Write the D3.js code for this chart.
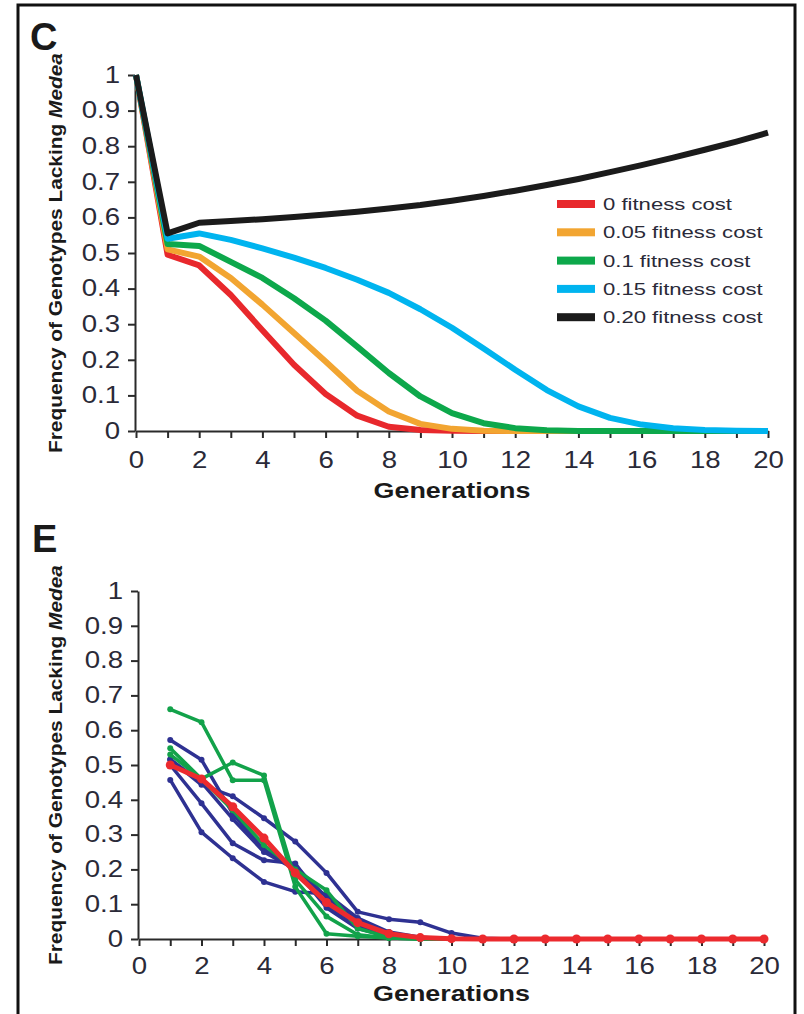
<!DOCTYPE html>
<html><head><meta charset="utf-8">
<script src="https://cdn.jsdelivr.net/npm/d3@7"></script>
<style>
body{margin:0;background:#fff;}
svg{display:block;font-family:"Liberation Sans",Arial,sans-serif;}
</style></head>
<body><svg id="chart" width="804" height="1014"></svg>
<script>
// ---------- DATA ----------
const gensC = d3.range(0, 21);
const legendLabels = ["0 fitness cost","0.05 fitness cost","0.1 fitness cost","0.15 fitness cost","0.20 fitness cost"];
const colorsC = ["#e8282c","#f2a531","#0da84b","#00b4ef","#1b1b1b"];
const cost0  = [1,0.495,0.465,0.382,0.283,0.186,0.104,0.043,0.012,0.003,0.001,0,0,0,0,0,0,0,0,0,0];
const cost05 = [1,0.51,0.49,0.43,0.355,0.275,0.195,0.113,0.055,0.02,0.006,0.001,0,0,0,0,0,0,0,0,0];
const cost10 = [1,0.525,0.52,0.475,0.43,0.373,0.31,0.237,0.163,0.097,0.05,0.022,0.008,0.002,0,0,0,0,0,0,0];
const cost15 = [1,0.54,0.555,0.537,0.513,0.487,0.458,0.425,0.388,0.342,0.29,0.232,0.172,0.115,0.069,0.037,0.018,0.008,0.003,0.001,0];
const cost20 = [1,0.555,0.585,0.59,0.595,0.601,0.608,0.616,0.625,0.635,0.647,0.66,0.675,0.691,0.708,0.727,0.747,0.768,0.79,0.813,0.838];
const seriesC = [cost0, cost05, cost10, cost15, cost20];

const gensE = d3.range(1, 21);
const blueE = [
  [0.572,0.515,0.36,0.256,0.21,0.12,0.05,0.015,0.003,0,0,0,0,0,0,0,0,0,0,0],
  [0.516,0.443,0.41,0.347,0.28,0.19,0.078,0.057,0.048,0.017,0.002,0,0,0,0,0,0,0,0,0],
  [0.457,0.307,0.232,0.164,0.136,0.13,0.06,0.02,0.005,0,0,0,0,0,0,0,0,0,0,0],
  [0.50,0.39,0.275,0.226,0.217,0.10,0.04,0.01,0.002,0,0,0,0,0,0,0,0,0,0,0],
  [0.516,0.45,0.345,0.25,0.2,0.09,0.03,0.008,0.001,0,0,0,0,0,0,0,0,0,0,0]
];
const greenE = [
  [0.66,0.623,0.456,0.456,0.15,0.015,0.008,0.003,0,0,0,0,0,0,0,0,0,0,0,0],
  [0.548,0.46,0.507,0.47,0.17,0.065,0.012,0.003,0,0,0,0,0,0,0,0,0,0,0,0],
  [0.53,0.46,0.37,0.27,0.2,0.14,0.03,0.005,0.001,0,0,0,0,0,0,0,0,0,0,0]
];
const redE = [0.50,0.46,0.38,0.29,0.19,0.105,0.047,0.015,0.004,0.001,0,0,0,0,0,0,0,0,0,0];
const yTicks = d3.range(0, 11).map(d => d / 10);
const yTickLabels = ["0","0.1","0.2","0.3","0.4","0.5","0.6","0.7","0.8","0.9","1"];
const xTicks = d3.range(0, 21);
const xTickLabels = xTicks.map(d => d % 2 === 0 ? String(d) : "");

// ---------- DRAW ----------
const svg = d3.select("#chart");
svg.append("rect").attr("x",18).attr("y",5).attr("width",777).attr("height",1030)
  .attr("fill","none").attr("stroke","#111").attr("stroke-width",3);

const SX = 1.2;
function panel(cfg){
  const x = d3.scaleLinear().domain([0,20]).range([cfg.x0, cfg.x1]);
  const y = d3.scaleLinear().domain([0,1]).range([cfg.y0, cfg.y1]);
  const g = svg.append("g");
  // axes
  const ya = g.append("g").attr("transform",`translate(${cfg.x0 - 1},0)`)
    .call(d3.axisLeft(y).tickValues(yTicks).tickFormat((d,i)=>yTickLabels[i]).tickSize(7).tickSizeOuter(0).tickPadding(8));
  const xa = g.append("g").attr("transform",`translate(0,${cfg.y0})`)
    .call(d3.axisBottom(x).tickValues(xTicks).tickFormat((d,i)=>xTickLabels[i]).tickSize(7).tickSizeOuter(0).tickPadding(cfg.xPad));
  [ya,xa].forEach(a=>{
    a.select(".domain").attr("stroke","#2a2a2a").attr("stroke-width",2);
    a.selectAll(".tick line").attr("stroke","#2a2a2a").attr("stroke-width",2);
    a.selectAll(".tick text").attr("fill","#2a2a38").attr("font-size",23).attr("font-family","Liberation Sans, Arial, sans-serif");
  });
  ya.selectAll(".tick text").attr("x", -15/SX).attr("transform",`scale(${SX},1)`);
  xa.selectAll(".tick text").attr("transform",`scale(${SX},1)`);
  // panel letter
  svg.append("text").attr("x",cfg.letterX).attr("y",cfg.letterY).text(cfg.letter)
    .attr("font-size",38).attr("font-weight","bold").attr("fill","#1a1a1a");
  // x label
  svg.append("text").attr("x",(cfg.x0+cfg.x1)/2).attr("y",cfg.xLabelY).attr("text-anchor","middle")
    .attr("font-size",22).attr("font-weight","bold").attr("fill","#1a1a1a")
    .attr("textLength",157).attr("lengthAdjust","spacingAndGlyphs").text("Generations");
  // y label
  const yl = svg.append("text").attr("transform",`translate(${cfg.yLabelX},${(cfg.y0+cfg.y1)/2}) rotate(-90)`)
    .attr("text-anchor","middle").attr("font-size",18).attr("font-weight","bold").attr("fill","#1a1a1a")
    .attr("textLength",400).attr("lengthAdjust","spacingAndGlyphs");
  yl.append("tspan").text("Frequency of Genotypes Lacking ");
  yl.append("tspan").attr("font-style","italic").text("Medea");
  return {x,y,g};
}

// Panel C
const C = panel({x0:136,x1:768,y0:431,y1:75,letter:"C",letterX:30,letterY:50,xLabelY:498,yLabelX:62,xPad:14});
const lineC = d3.line().x((d,i)=>C.x(gensC[i])).y(d=>C.y(d));
seriesC.forEach((s,k)=>{
  C.g.append("path").datum(s).attr("d",lineC).attr("fill","none")
    .attr("stroke",colorsC[k]).attr("stroke-width",6).attr("stroke-linejoin","round");
});
// legend
const lg = svg.append("g");
legendLabels.forEach((t,i)=>{
  const yy = 204 + i*28.3;
  lg.append("rect").attr("x",557).attr("y",yy-4).attr("width",38).attr("height",8).attr("fill",colorsC[i]);
  lg.append("text").attr("transform",`translate(603,${yy+6}) scale(1.3,1)`).attr("font-size",17)
    .attr("fill","#2a2a38").text(t);
});

// Panel E
const E = panel({x0:139,x1:764,y0:939,y1:591,letter:"E",letterX:32,letterY:552,xLabelY:1001,yLabelX:62,xPad:12});
const lineE = d3.line().x((d,i)=>E.x(gensE[i])).y(d=>E.y(d));
function drawE(s, color, w, r){
  E.g.append("path").datum(s).attr("d",lineE).attr("fill","none")
    .attr("stroke",color).attr("stroke-width",w).attr("stroke-linejoin","round");
  E.g.append("g").selectAll("circle").data(s).join("circle")
    .attr("cx",(d,i)=>E.x(gensE[i])).attr("cy",d=>E.y(d)).attr("r",r).attr("fill",color);
}
blueE.forEach(s=>drawE(s,"#2e3192",3.5,3));
greenE.forEach(s=>drawE(s,"#12a24a",3.5,3));
drawE(redE,"#ec2a2e",5,4.5);
</script>
</body></html>
